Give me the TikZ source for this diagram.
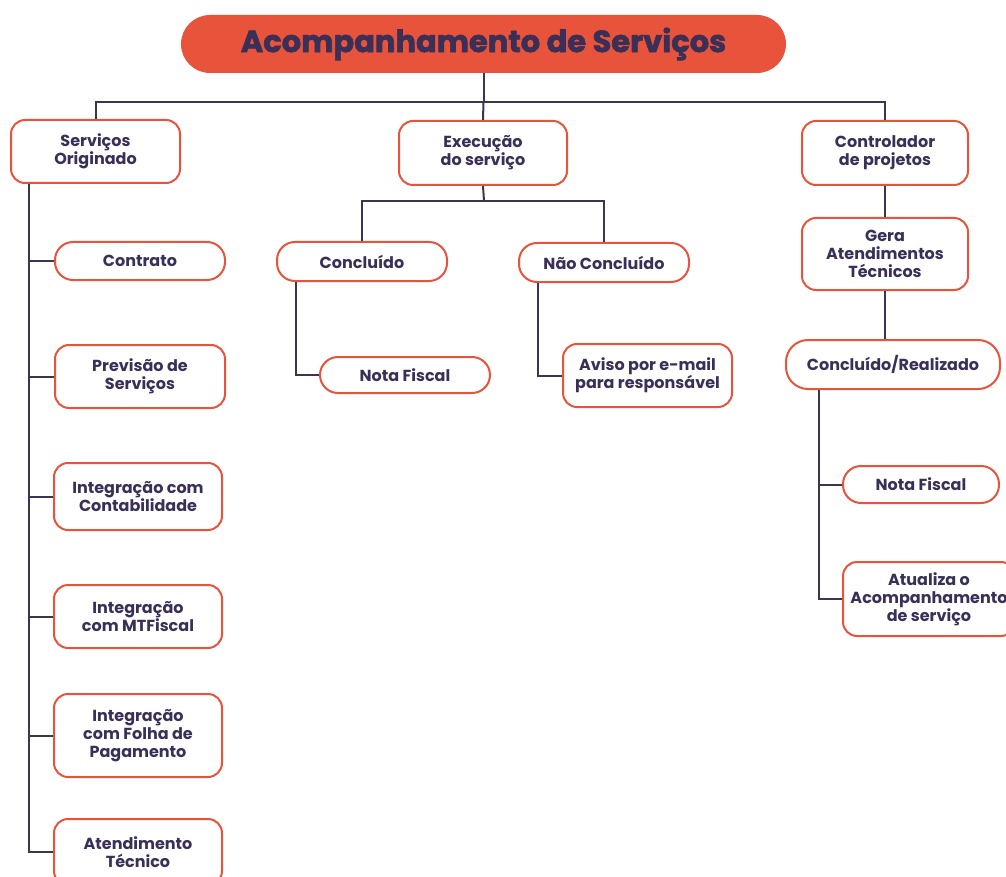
\documentclass[tikz,border=0pt]{standalone}
\usepackage{fontspec}
\setmainfont{Poppins}
\definecolor{brd}{HTML}{E8533C}
\definecolor{navy}{HTML}{3A2F57}
\definecolor{ln}{HTML}{3B3550}
\begin{document}
\begin{tikzpicture}[x=1pt,y=-1pt,
  box/.style={draw=brd, line width=2pt, rounded corners=14pt, fill=white, align=center,
    text=navy, inner sep=0pt, font=\fontsize{16}{18}\selectfont\bfseries},
  pill/.style={box, rounded corners=18pt},
  conn/.style={draw=ln, line width=2pt}]
\useasboundingbox (0,0) rectangle (1006,877);
\node[fill=brd, rounded corners=29pt, minimum width=605pt, minimum height=58pt, inner sep=0pt,
  text=navy, font=\fontsize{30.5}{34}\selectfont\bfseries\addfontfeatures{FakeBold=2}] (title) at (483.5,44) {Acompanhamento de Serviços};
% level 1
\node[box, minimum width=169pt, minimum height=63pt] (so) at (95.5,151.5) {Serviços\\Originado};
\node[box, minimum width=168pt, minimum height=64pt] (ex) at (483,153) {Execução\\do serviço};
\node[box, minimum width=166pt, minimum height=64pt] (ct) at (885,153) {Controlador\\de projetos};
% left column
\node[pill, minimum width=170pt, minimum height=38pt] (contrato) at (140,261) {Contrato};
\node[box, minimum width=170pt, minimum height=63pt] (prev) at (140,376.5) {Previsão de\\Serviços};
\node[box, minimum width=168pt, minimum height=67pt] (icont) at (138,496.5) {Integração com\\Contabilidade};
\node[box, minimum width=168pt, minimum height=63pt] (imt) at (138,616.5) {Integração\\com MTFiscal};
\node[box, minimum width=168pt, minimum height=83pt] (ifol) at (138,735.5) {Integração\\com Folha de\\Pagamento};
\node[box, minimum width=168pt, minimum height=66pt] (atend) at (138,852) {Atendimento\\Técnico};
% middle
\node[pill, minimum width=170pt, minimum height=39pt] (conc) at (362,261.5) {Concluído};
\node[pill, minimum width=170pt, minimum height=39pt] (nconc) at (604,262.5) {Não Concluído};
\node[pill, minimum width=170pt, minimum height=36pt] (nf1) at (405,375) {Nota Fiscal};
\node[box, minimum width=169pt, minimum height=63pt] (aviso) at (647.5,375.5) {Aviso por e-mail\\para responsável};
% right
\node[box, minimum width=166pt, minimum height=72pt] (gera) at (885,254) {Gera\\Atendimentos\\Técnicos};
\node[pill, minimum width=214pt, minimum height=49pt, rounded corners=22pt] (cr) at (893,364.5) {Concluído/Realizado};
\node[pill, minimum width=156pt, minimum height=37pt] (nf2) at (921,484.5) {Nota Fiscal};
\node[box, minimum width=172pt, minimum height=74pt] (atual) at (929,599) {Atualiza o\\Acompanhamento\\de serviço};
% connectors
\coordinate (hub) at (483.5,102);
\draw[conn] (title.south) -- (hub);
\draw[conn] (hub) -| (so.north);
\draw[conn] (hub) -| (ct.north);
\draw[conn] (hub) -- (ex.north);
\coordinate (trunk) at ([xshift=19pt]so.south west);
\draw[conn] (trunk) |- (atend.west);
\foreach \n in {contrato,prev,icont,imt,ifol} \draw[conn] (trunk) |- (\n.west);
\coordinate (mhub) at (484,201);
\draw[conn] (ex.south) -- (mhub);
\draw[conn] (mhub) -| (conc.north);
\draw[conn] (mhub) -| (nconc.north);
\draw[conn] ([xshift=20pt]conc.south west) |- (nf1.west);
\draw[conn] ([xshift=20pt]nconc.south west) |- (aviso.west);
\draw[conn] (ct.south) -- (gera.north);
\draw[conn] (gera.south) -- (gera.south |- cr.north);
\coordinate (rtrunk) at ([xshift=34pt]cr.south west);
\draw[conn] (rtrunk) |- (nf2.west);
\draw[conn] (rtrunk) |- (atual.west);
\end{tikzpicture}
\end{document}
